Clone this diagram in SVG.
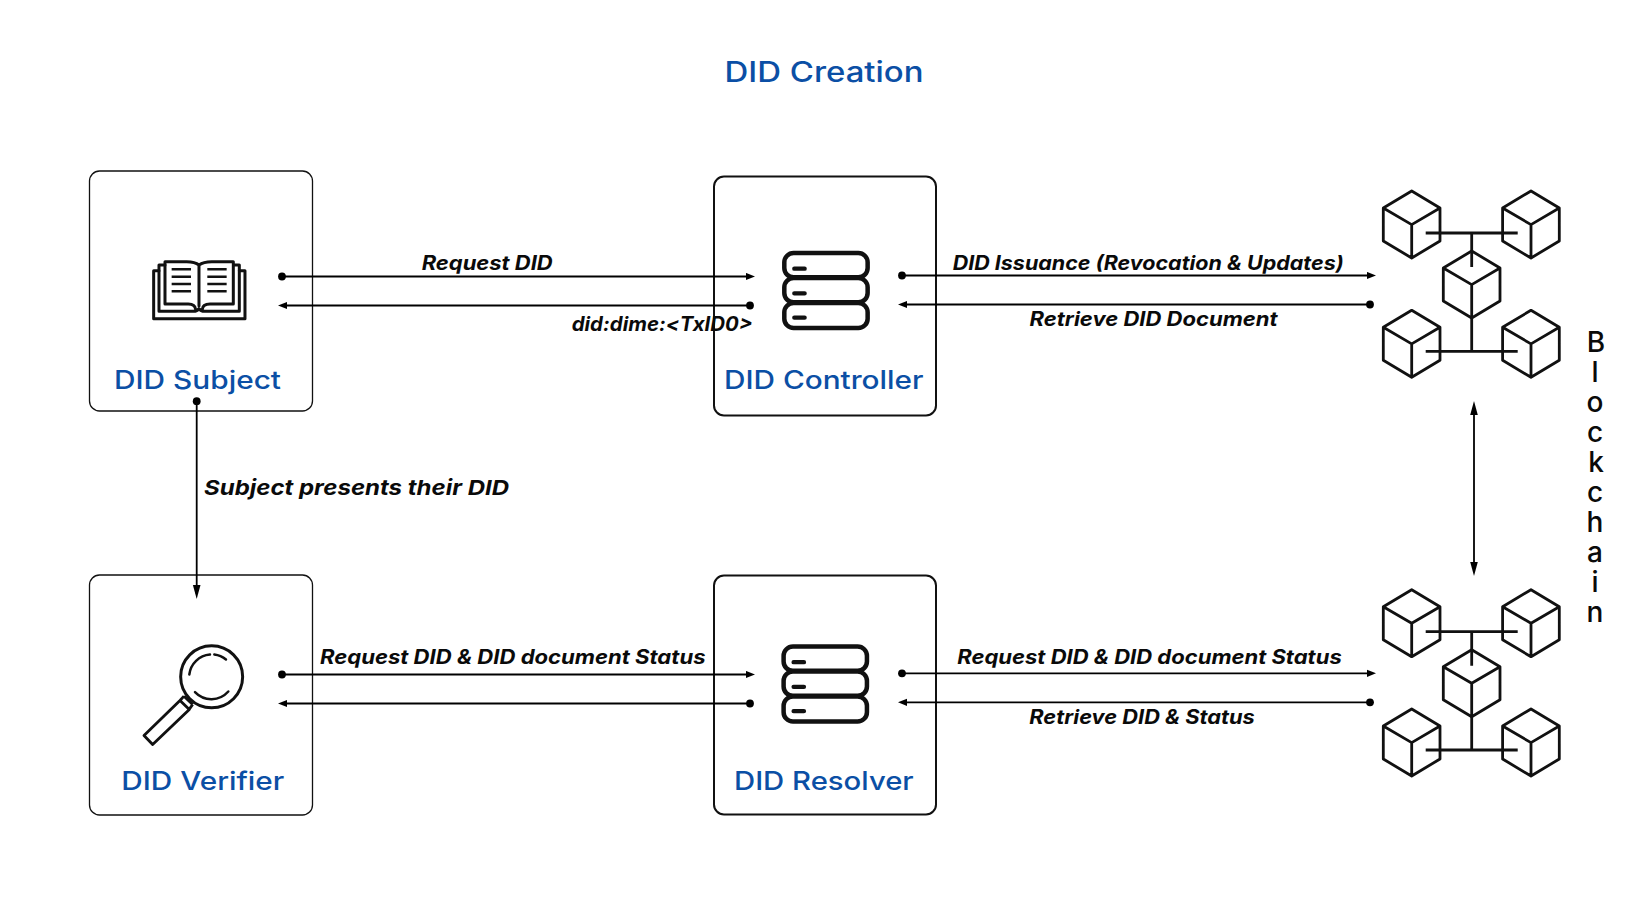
<svg xmlns="http://www.w3.org/2000/svg" xmlns:xlink="http://www.w3.org/1999/xlink" width="1650" height="911" viewBox="0 0 1650 911">
<style>
text{font-family:"Inter","Liberation Sans",sans-serif}
.box{fill:#fff;stroke:#111;stroke-width:1.3}
.boxb{fill:#fff;stroke:#111;stroke-width:2}
.name{font-size:25.5px;font-weight:550;fill:#0b4fa5}
.lab{font-size:19.5px;font-weight:700;font-style:italic;fill:#0a0a0a}
.ln{stroke:#000;stroke-width:1.8;fill:none;marker-start:url(#dot);marker-end:url(#arr)}
.ic{fill:none;stroke:#111;stroke-linecap:round;stroke-linejoin:round}
.cube{fill:none;stroke:#111;stroke-width:2.8;stroke-linejoin:round}
</style>
<defs>
<marker id="arr" markerUnits="userSpaceOnUse" markerWidth="12" markerHeight="10" refX="5" refY="4" orient="auto"><path d="M0,0.4L9,4L0,7.6z" fill="#000"/></marker>
<marker id="dot" markerUnits="userSpaceOnUse" markerWidth="10" markerHeight="10" refX="5" refY="5"><circle cx="5" cy="5" r="3.9" fill="#000"/></marker>
<marker id="big" markerUnits="userSpaceOnUse" markerWidth="16" markerHeight="10" refX="9" refY="4.5" orient="auto-start-reverse"><path d="M0,0.7L14,4.5L0,8.3z" fill="#000"/></marker>
<g id="cube"><path d="M1411.7,191L1440,208V241L1411.7,258L1383.3,241V208zM1383.3,208L1411.7,224.6L1440,208M1411.7,224.6V258"/></g>
<g id="chain" class="cube">
<use xlink:href="#cube" href="#cube"/>
<use xlink:href="#cube" href="#cube" x="119.3"/>
<use xlink:href="#cube" href="#cube" x="60" y="60"/>
<use xlink:href="#cube" href="#cube" y="119.3"/>
<use xlink:href="#cube" href="#cube" x="119.3" y="119.3"/>
<path d="M1425.7,233H1517.7M1471.7,233V267M1471.7,317V351.3M1425.7,351.3H1517.7"/>
</g>
<g id="server" class="ic">
<rect x="703" y="309" width="250" height="73" rx="28" stroke-width="13.5"/>
<rect x="703" y="384" width="250" height="73" rx="28" stroke-width="13.5"/>
<rect x="703" y="459" width="250" height="75" rx="28" stroke-width="13.5"/>
<path d="M733,356H764M733,430H764M733,503H764" stroke-width="13"/>
</g>
</defs>
<rect width="1650" height="911" fill="#fff"/>
<text id="title" x="724.5" y="81.7" font-size="28" font-weight="550" fill="#0b4fa5" textLength="199" lengthAdjust="spacingAndGlyphs">DID Creation</text>

<g id="did-subject">
<rect class="box" x="89.5" y="171" width="223" height="240" rx="10"/>
<g transform="translate(60 150) scale(.3333)" class="ic">
<path stroke-width="9" d="M297,362H281V506H555V362H538"/>
<path stroke-width="9" d="M315,345H297V484H400Q412,484 417,476Q422,484 434,484H538V345H522"/>
<path stroke-width="9" d="M417,345Q405,335 380,335H315V462H385Q405,462 407,478M417,345Q430,335 455,335H520V462H450Q428,462 427,478M417,345V468"/>
<path stroke-width="7.5" stroke-linecap="butt" d="M335,358H393M335,380H393M335,402H393M335,424H393M442,358H500M442,380H500M442,402H500M442,424H500"/>
</g>
<text class="name" x="114" y="389" textLength="167" lengthAdjust="spacingAndGlyphs">DID Subject</text>
</g>

<g id="did-controller">
<rect class="boxb" x="714" y="176.5" width="222" height="239" rx="10"/>
<use xlink:href="#server" href="#server" transform="translate(550 150) scale(.3333)"/>
<text class="name" x="724" y="389" textLength="199.5" lengthAdjust="spacingAndGlyphs">DID Controller</text>
</g>

<g id="did-verifier">
<rect class="box" x="89.5" y="575" width="223" height="240" rx="10"/>
<g transform="translate(60 560.5) scale(.3333)" class="ic">
<circle cx="455" cy="349" r="93" stroke-width="9"/>
<path stroke-width="7.5" d="M388,342A68,68 0 0 1 450,282M463,282A68,68 0 0 1 498,297M405,395A68,68 0 0 0 505,393"/>
<path stroke-width="8.5" stroke-linecap="butt" d="M372,407L398,432M360,420L372,407M388,446L398,432M360,420L388,447L278,552L252,525z"/>
</g>
<text class="name" x="121.3" y="790" textLength="163" lengthAdjust="spacingAndGlyphs">DID Verifier</text>
</g>

<g id="did-resolver">
<rect class="boxb" x="714" y="575.5" width="222" height="239" rx="10"/>
<use xlink:href="#server" href="#server" transform="translate(549.3 543.5) scale(.3333)"/>
<text class="name" x="734" y="790" textLength="179.7" lengthAdjust="spacingAndGlyphs">DID Resolver</text>
</g>

<g id="blockchain-top"><use xlink:href="#chain" href="#chain"/></g>
<g id="blockchain-bottom"><use xlink:href="#chain" href="#chain" y="398.7"/></g>

<text id="blockchain-label" font-size="28" font-weight="550" fill="#0a0a0a" text-anchor="middle"><tspan x="1596" y="351.7">B</tspan><tspan x="1595" y="381.7">l</tspan><tspan x="1595" y="411.7">o</tspan><tspan x="1595" y="441.7">c</tspan><tspan x="1596" y="471.7">k</tspan><tspan x="1595" y="501.7">c</tspan><tspan x="1595" y="531.7">h</tspan><tspan x="1595" y="561.7">a</tspan><tspan x="1595" y="591.7">i</tspan><tspan x="1595" y="621.7">n</tspan></text>

<g id="connectors">
<line class="ln" x1="282" y1="276.5" x2="751" y2="276.5"/>
<line class="ln" x1="750" y1="305.5" x2="282" y2="305.5"/>
<line class="ln" x1="902" y1="275.5" x2="1372" y2="275.5"/>
<line class="ln" x1="1370" y1="304.5" x2="902" y2="304.5"/>
<line class="ln" x1="196.7" y1="401.2" x2="196.7" y2="594" style="marker-end:url(#big)"/>
<line class="ln" x1="282" y1="674.5" x2="751" y2="674.5"/>
<line class="ln" x1="750" y1="703.5" x2="282" y2="703.5"/>
<line class="ln" x1="902" y1="673.3" x2="1372" y2="673.3"/>
<line class="ln" x1="1370" y1="702.3" x2="902" y2="702.3"/>
<line class="ln" x1="1474" y1="406" x2="1474" y2="571" style="marker-start:url(#big);marker-end:url(#big)"/>
<text class="lab" x="421.7" y="270" textLength="131" lengthAdjust="spacingAndGlyphs">Request DID</text>
<text class="lab" x="571.7" y="331" textLength="181" lengthAdjust="spacingAndGlyphs">did:dime:&lt;TxID0&gt;</text>
<text class="lab" x="952.7" y="270.3" textLength="391" lengthAdjust="spacingAndGlyphs">DID Issuance (Revocation &amp; Updates)</text>
<text class="lab" x="1029.5" y="326" textLength="248" lengthAdjust="spacingAndGlyphs">Retrieve DID Document</text>
<text class="lab" x="204" y="494.5" style="font-size:20.5px" textLength="305" lengthAdjust="spacingAndGlyphs">Subject presents their DID</text>
<text class="lab" x="320" y="664.3" textLength="385.5" lengthAdjust="spacingAndGlyphs">Request DID &amp; DID document Status</text>
<text class="lab" x="957.3" y="663.5" textLength="384.4" lengthAdjust="spacingAndGlyphs">Request DID &amp; DID document Status</text>
<text class="lab" x="1029.3" y="723.5" textLength="225.5" lengthAdjust="spacingAndGlyphs">Retrieve DID &amp; Status</text>
</g>
</svg>
